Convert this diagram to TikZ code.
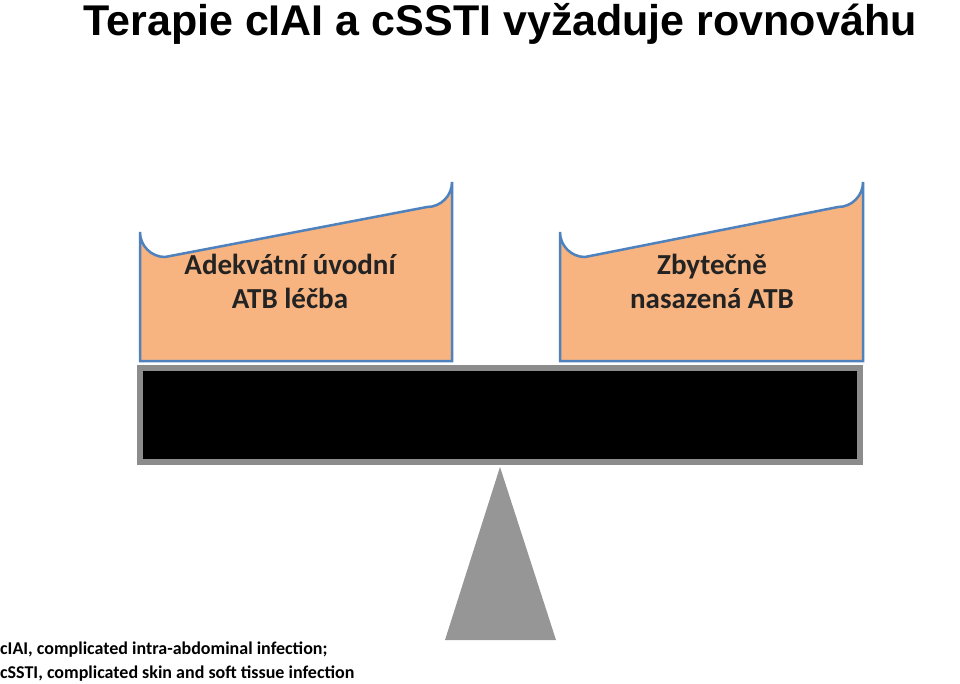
\documentclass[tikz,border=0pt]{standalone}
\usepackage{fontspec}
\setmainfont{Carlito}
\newfontfamily\arialfont{Liberation Sans}
\definecolor{boxfill}{RGB}{247,180,128}
\definecolor{boxline}{RGB}{79,129,189}
\definecolor{boxtxt}{RGB}{35,35,35}
\definecolor{barline}{RGB}{140,140,140}
\definecolor{trifill}{RGB}{150,150,150}
\begin{document}
\begin{tikzpicture}[x=1pt,y=-1pt,
  box/.style={fill=boxfill,draw=boxline,line width=2.5pt},
  boxtext/.style={font=\bfseries\fontsize{29}{34}\selectfont,align=center,text=boxtxt}]
\useasboundingbox (0,0) rectangle (960,684);
\node[font=\arialfont\bfseries\fontsize{43}{48}\selectfont,anchor=north] (title) at (500,0) {Terapie cIAI a cSSTI vyžaduje rovnováhu};
\draw[box] (140,361) -- (140,232) arc[start angle=180,end angle=90,radius=25] -- (427,207) arc[start angle=90,end angle=0,radius=25] -- (452,361) -- cycle;
\node[boxtext] (l) at (290,281) {Adekvátní úvodní\\ATB léčba};
\draw[box] (560,361) -- (560,232) arc[start angle=180,end angle=90,radius=25] -- (838,207) arc[start angle=90,end angle=0,radius=25] -- (863,361) -- cycle;
\node[boxtext] (r) at (712,281) {Zbytečně\\nasazená ATB};
\draw[fill=black,draw=barline,line width=6pt] (140,368) rectangle (860,462);
\fill[trifill] (500,467) -- (556,640) -- (445,640) -- cycle;
\node[font=\bfseries\fontsize{18}{24}\selectfont,align=left,anchor=south west,inner sep=0pt] (foot) at (0,682) {cIAI, complicated intra-abdominal infection;\\cSSTI, complicated skin and soft tissue infection};
\end{tikzpicture}
\end{document}
